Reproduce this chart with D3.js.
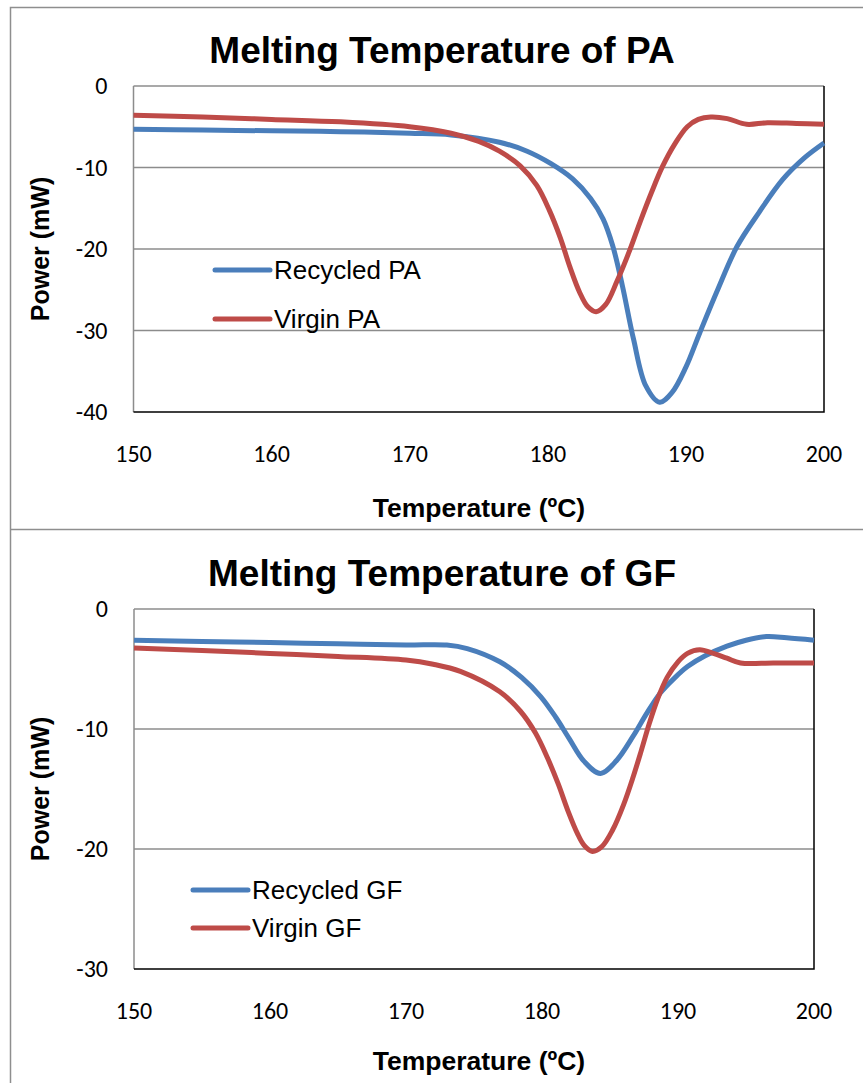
<!DOCTYPE html>
<html>
<head>
<meta charset="utf-8">
<script src="https://cdn.jsdelivr.net/npm/d3@7"></script>
<style>
  body { margin: 0; background: #fff; }
  svg { display: block; }
</style>
</head>
<body>
<div id="wrapper"></div>
<script>
// values: [temperature, power]
const recycledPA = [[150,-5.3],[155,-5.4],[160,-5.5],[165,-5.6],[170,-5.8],[173,-6.0],[176.5,-6.9],[178.5,-8.0],[180.2,-9.5],[181.8,-11.4],[183.1,-13.8],[184,-16.3],[184.7,-19.6],[185.4,-24.5],[186.2,-31],[187.1,-36.8],[188.1,-38.8],[189,-37.6],[190,-34.5],[191,-30.3],[192.3,-25],[193.7,-19.7],[195.3,-15.5],[197,-11.5],[198.6,-8.8],[200,-7.0]]
const virginPA = [[150,-3.6],[155,-3.8],[160,-4.1],[165,-4.4],[170,-5.0],[173,-5.8],[175,-6.8],[176.5,-8.0],[178,-9.8],[179.2,-12.2],[180.1,-15.2],[180.9,-18.6],[181.6,-22.2],[182.3,-25.3],[182.9,-27.1],[183.5,-27.7],[184.2,-26.8],[185,-24.0],[185.9,-20.3],[186.7,-16.6],[187.5,-13.1],[188.3,-9.9],[189.2,-7.1],[190.1,-5.0],[190.9,-4.1],[191.8,-3.8],[193,-4.0],[194.4,-4.7],[195.9,-4.5],[198,-4.6],[200,-4.7]]
const recycledGF = [[150,-2.6],[155,-2.7],[160,-2.8],[165,-2.9],[170,-3.0],[173,-3.0],[174.5,-3.3],[176.9,-4.4],[178.5,-5.7],[179.9,-7.3],[181,-9],[182,-10.8],[183.1,-12.7],[184.3,-13.7],[185.5,-12.6],[186.7,-10.6],[187.7,-8.7],[188.7,-7.0],[189.7,-5.8],[190.7,-4.8],[192,-3.9],[193.6,-3.1],[195,-2.6],[196.5,-2.3],[198,-2.4],[200,-2.6]]
const virginGF = [[150,-3.25],[155,-3.45],[160,-3.7],[165,-3.95],[170,-4.25],[172,-4.6],[174,-5.2],[176.9,-6.9],[178.4,-8.5],[179.5,-10.3],[180.4,-12.4],[181.2,-14.6],[181.9,-16.8],[182.6,-18.7],[183.1,-19.7],[183.7,-20.2],[184.4,-19.8],[185.2,-18.4],[186,-16.3],[186.7,-14],[187.3,-11.8],[187.9,-9.5],[188.5,-7.5],[189.2,-5.7],[190,-4.4],[190.7,-3.7],[191.6,-3.4],[192.6,-3.7],[193.6,-4.1],[194.6,-4.5],[197,-4.5],[200,-4.5]]

const xTicks = [150, 160, 170, 180, 190, 200]
const yTicksPA = [0, -10, -20, -30, -40]
const yTicksGF = [0, -10, -20, -30]

const blue = "#4a7ebb"
const red = "#be4b48"

const width = 863, height = 1083
const svg = d3.select("#wrapper").append("svg")
    .attr("width", width)
    .attr("height", height)

// outer frame and divider
svg.append("path")
    .attr("d", "M10.5," + height + "V7.5H" + width)
    .attr("fill", "none").attr("stroke", "#8e8e8e").attr("stroke-width", 1.5)
svg.append("line")
    .attr("x1", 10).attr("x2", width).attr("y1", 529.5).attr("y2", 529.5)
    .attr("stroke", "#8e8e8e").attr("stroke-width", 1.5)

function drawPanel(opt) {
    const x = d3.scaleLinear().domain([150, 200]).range([opt.left, opt.right])
    const y = d3.scaleLinear().domain([opt.ymin, 0]).range([opt.bottom, opt.top])
    const g = svg.append("g")

    // gridlines (the top one doubles as frame)
    g.selectAll(".grid").data(opt.yTicks.filter(d => d != opt.ymin)).enter()
        .append("line")
        .attr("x1", opt.left).attr("x2", opt.right)
        .attr("y1", d => y(d)).attr("y2", d => y(d))
        .attr("stroke", "#8c8c8c").attr("stroke-width", 1.5)

    // left axis gray, bottom + right black
    g.append("line").attr("x1", opt.left).attr("x2", opt.left)
        .attr("y1", opt.top).attr("y2", opt.bottom)
        .attr("stroke", "#8c8c8c").attr("stroke-width", 1.5)
    g.append("path")
        .attr("d", "M" + opt.left + "," + opt.bottom + "H" + opt.right + "V" + opt.top)
        .attr("fill", "none").attr("stroke", "#000").attr("stroke-width", 1.5)

    // tick labels
    g.selectAll(".yl").data(opt.yTicks).enter().append("text")
        .attr("x", opt.left - 26).attr("y", d => y(d))
        .attr("dy", "0.35em")
        .attr("text-anchor", "end")
        .style("font-family", "Carlito, Calibri, Lato, sans-serif")
        .style("font-size", "24px")
        .text(d => d)
    g.selectAll(".xl").data(xTicks).enter().append("text")
        .attr("x", d => x(d)).attr("y", opt.xLabelY)
        .attr("text-anchor", "middle")
        .style("font-family", "Carlito, Calibri, Lato, sans-serif")
        .style("font-size", "24px")
        .text(d => d)

    const line = d3.line()
        .x(d => x(d[0])).y(d => y(d[1]))
        .curve(d3.curveCatmullRom.alpha(0.5))

    opt.series.forEach(s => {
        g.append("path").datum(s.data)
            .attr("d", line)
            .attr("fill", "none")
            .attr("stroke", s.color)
            .attr("stroke-width", 5)
            .attr("stroke-linejoin", "round")
    })

    // legend
    opt.series.forEach((s, i) => {
        const ly = opt.legendY + i * opt.legendGap
        g.append("line")
            .attr("x1", opt.legendX).attr("x2", opt.legendX + 55)
            .attr("y1", ly).attr("y2", ly)
            .attr("stroke", s.color).attr("stroke-width", 5)
            .attr("stroke-linecap", "round")
        g.append("text")
            .attr("x", opt.legendX + 59).attr("y", ly + 9)
            .style("font-family", "'Liberation Sans', Arial, sans-serif")
            .style("font-size", "26px")
            .text(s.name)
    })

    // titles
    g.append("text")
        .attr("x", 442).attr("y", opt.titleY)
        .attr("text-anchor", "middle")
        .style("font-family", "'Liberation Sans', Arial, sans-serif")
        .style("font-weight", "bold")
        .style("font-size", "37px")
        .text(opt.title)
    g.append("text")
        .attr("x", 479).attr("y", opt.xTitleY)
        .attr("text-anchor", "middle")
        .style("font-family", "'Liberation Sans', Arial, sans-serif")
        .style("font-weight", "bold")
        .style("font-size", "26.5px")
        .text("Temperature (ºC)")
    g.append("text")
        .attr("transform", "translate(49," + ((opt.top + opt.bottom) / 2) + ") rotate(-90)")
        .attr("text-anchor", "middle")
        .style("font-family", "'Liberation Sans', Arial, sans-serif")
        .style("font-weight", "bold")
        .style("font-size", "25px")
        .text("Power (mW)")
}

drawPanel({
    left: 133.5, right: 824, top: 86, bottom: 412, ymin: -40,
    yTicks: yTicksPA, xLabelY: 462,
    title: "Melting Temperature of PA", titleY: 63, xTitleY: 517,
    legendX: 215, legendY: 270, legendGap: 49,
    series: [
        {name: "Recycled PA", data: recycledPA, color: blue},
        {name: "Virgin PA", data: virginPA, color: red}
    ]
})

drawPanel({
    left: 134, right: 814, top: 609, bottom: 969, ymin: -30,
    yTicks: yTicksGF, xLabelY: 1019,
    title: "Melting Temperature of GF", titleY: 586, xTitleY: 1070,
    legendX: 193, legendY: 890, legendGap: 38,
    series: [
        {name: "Recycled GF", data: recycledGF, color: blue},
        {name: "Virgin GF", data: virginGF, color: red}
    ]
})
</script>
</body>
</html>
